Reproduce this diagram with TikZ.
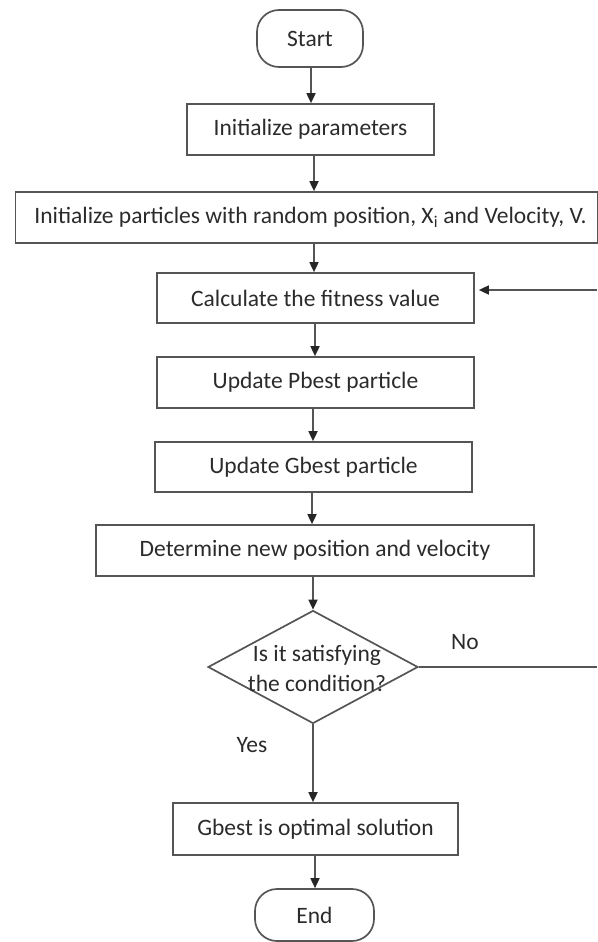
\documentclass[tikz,border=0pt]{standalone}
\usepackage{fontspec}
\setmainfont{Carlito}
\usetikzlibrary{shapes.geometric,arrows.meta,calc}
\definecolor{ln}{HTML}{555555}
\definecolor{tx}{HTML}{2B2B2B}
\tikzset{
  base/.style={draw=ln, line width=1.7pt, text=tx, inner sep=0pt, font=\fontsize{23.5}{30}\selectfont},
  procbox/.style={base, rectangle},
  termbox/.style={base, rectangle, rounded corners=22pt},
  decbox/.style={draw=ln, line width=1.7pt, diamond, inner sep=0pt},
  lbl/.style={text=tx, inner sep=0pt, font=\fontsize{23.5}{30}\selectfont},
  conn/.style={draw=ln, line width=1.7pt, -{Triangle[width=9pt,length=10pt,color=black!85]}},
  plain/.style={draw=ln, line width=1.7pt}
}
\begin{document}
\begin{tikzpicture}[x=1pt,y=-1pt]
\useasboundingbox (0,0) rectangle (597,942);
\node[termbox, minimum width=106pt, minimum height=57pt] (start) at (310,38.5) {Start};
\node[procbox, minimum width=247pt, minimum height=51pt] (init) at (310.5,129.5) {Initialize parameters};
\node[procbox, minimum width=582pt, minimum height=51pt] (part) at (306.5,217.5) {\hspace*{8pt}Initialize particles with random position, X\textsubscript{i} and Velocity, V.};
\node[procbox, minimum width=317pt, minimum height=50pt] (calc) at (315.5,298) {Calculate the fitness value};
\node[procbox, minimum width=317pt, minimum height=51pt] (pbest) at (315.5,382.5) {Update Pbest particle};
\node[procbox, minimum width=317pt, minimum height=50pt] (gbest) at (313.5,467) {Update Gbest particle};
\node[procbox, minimum width=438pt, minimum height=51pt] (det) at (315,550.5) {Determine new position and velocity};
\node[decbox, minimum width=210pt, minimum height=113pt] (dec) at (313,667) {};
\node[lbl, align=center] (dectext) at (317,668) {Is it satisfying\\the condition?};
\node[procbox, minimum width=285pt, minimum height=52pt] (opt) at (315.5,829) {Gbest is optimal solution};
\node[termbox, minimum width=119pt, minimum height=52pt] (end) at (314.5,915) {End};
\node[lbl] (no) at (465,642) {No};
\node[lbl] (yes) at (252,745) {Yes};
\coordinate (r1) at (597,667);
\coordinate (r2) at (597,290);

\draw[conn] (311,67) coordinate (s0) -- (s0 |- init.north);
\draw[conn] (init.south -| 314,0) -- (314,0 |- part.north);
\draw[conn] (part.south -| 314,0) -- (314,0 |- calc.north);
\draw[conn] (calc.south -| 315,0) -- (315,0 |- pbest.north);
\draw[conn] (pbest.south -| 313,0) -- (313,0 |- gbest.north);
\draw[conn] (gbest.south -| 312,0) -- (312,0 |- det.north);
\draw[conn] (det.south -| dec.north) -- (dec.north);
\draw[conn] (dec.south) -- (dec.south |- opt.north);
\draw[conn] (opt.south -| 315,0) -- (315,0 |- end.north);
\draw[plain] (dec.east) -- (r1);
\draw[conn, shorten >=4pt] (r2) -- (calc.east |- r2);
\end{tikzpicture}
\end{document}
